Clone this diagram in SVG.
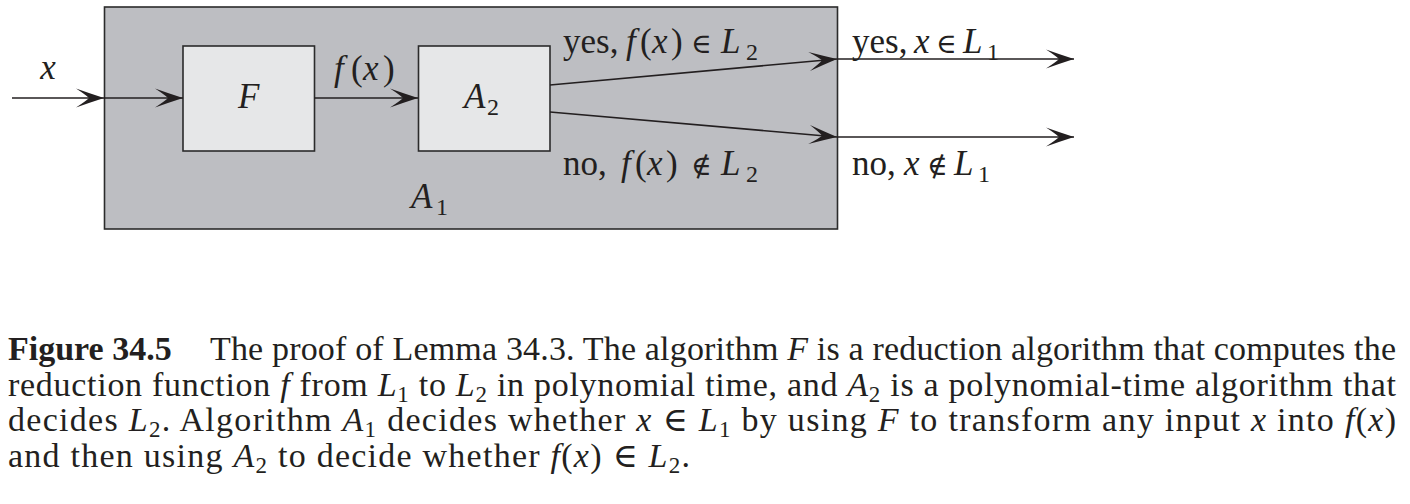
<svg xmlns="http://www.w3.org/2000/svg" width="1410" height="504" viewBox="0 0 1410 504">
<style>
text{font-family:"Liberation Serif","DejaVu Serif",serif;fill:#231f20}
.lb{font-size:35px}
.i{font-style:italic}
.s{font-size:24px}
.m{font-size:28px}
.cap{font-size:34px}
.cs{font-size:23px}
.b{font-weight:bold}
.box{stroke:#2b2b2b;stroke-width:1.6}
.ln{stroke:#231f20;stroke-width:1.6;fill:none;marker-end:url(#ah)}
</style>
<defs>
<marker id="ah" markerUnits="userSpaceOnUse" viewBox="-30 -11 32 22" markerWidth="32" markerHeight="22" refX="0" refY="0" orient="auto">
<path d="M0,0 Q-14,-4.5 -28,-9.5 Q-18,-3 -15,0 Q-18,3 -28,9.5 Q-14,4.5 0,0 Z" fill="#231f20"/>
</marker>
</defs>
<g id="A1">
<rect class="box" x="104.5" y="7" width="733" height="222" fill="#bdbec2"/>
<text class="lb" x="411" y="208"><tspan class="i">A</tspan><tspan class="s" x="436" dy="7">1</tspan></text>
</g>
<g id="F">
<rect class="box" x="183" y="46" width="131.5" height="105" fill="#e6e7e8"/>
<text class="lb i" x="238" y="108">F</text>
</g>
<g id="A2">
<rect class="box" x="418.5" y="46" width="131.5" height="105" fill="#e6e7e8"/>
<text class="lb" x="464" y="108"><tspan class="i">A</tspan><tspan class="s" x="487" dy="7">2</tspan></text>
</g>
<g id="connectors">
<line class="ln" x1="12" y1="98" x2="104" y2="98"/>
<line class="ln" x1="104" y1="98" x2="183" y2="98"/>
<line class="ln" x1="314.5" y1="98" x2="418" y2="98"/>
<line class="ln" x1="550" y1="85" x2="837" y2="59"/>
<line class="ln" x1="837" y1="59" x2="1074" y2="59"/>
<line class="ln" x1="550" y1="112" x2="837" y2="137"/>
<line class="ln" x1="837" y1="137" x2="1074" y2="137"/>
</g>
<g id="labels">
<text class="lb i" x="48" y="79" text-anchor="middle">x</text>
<text class="lb" y="80"><tspan class="i" x="334">f</tspan><tspan x="351">(</tspan><tspan class="i" x="363">x</tspan><tspan x="383">)</tspan></text>
<text class="lb" y="53"><tspan x="563">yes,</tspan><tspan class="i" x="626">f</tspan><tspan x="640">(</tspan><tspan class="i" x="652">x</tspan><tspan x="671">)</tspan><tspan class="m" x="691">∈</tspan><tspan class="i" x="721">L</tspan><tspan class="s" x="746" dy="7">2</tspan></text>
<text class="lb" y="53"><tspan x="852">yes,</tspan><tspan class="i" x="914">x</tspan><tspan class="m" x="936">∈</tspan><tspan class="i" x="963">L</tspan><tspan class="s" x="987" dy="7">1</tspan></text>
<text class="lb" y="175"><tspan x="563">no,</tspan><tspan class="i" x="621">f</tspan><tspan x="635">(</tspan><tspan class="i" x="647">x</tspan><tspan x="666">)</tspan><tspan class="m" x="691">∉</tspan><tspan class="i" x="721">L</tspan><tspan class="s" x="746" dy="7">2</tspan></text>
<text class="lb" y="175"><tspan x="852">no,</tspan><tspan class="i" x="904">x</tspan><tspan class="m" x="927">∉</tspan><tspan class="i" x="954">L</tspan><tspan class="s" x="978" dy="7">1</tspan></text>
</g>
<g id="caption">
<text class="cap b" x="8" y="360">Figure 34.5</text>
<text class="cap" x="210" y="360" textLength="1186" lengthAdjust="spacing">The proof of Lemma 34.3. The algorithm <tspan class="i">F</tspan> is a reduction algorithm that computes the</text>
<text class="cap" x="8" y="395.5" textLength="1388" lengthAdjust="spacing">reduction function <tspan class="i">f</tspan> from <tspan class="i">L</tspan><tspan class="cs" dy="6">1</tspan><tspan dy="-6"> to </tspan><tspan class="i">L</tspan><tspan class="cs" dy="6">2</tspan><tspan dy="-6"> in polynomial time, and </tspan><tspan class="i">A</tspan><tspan class="cs" dy="6">2</tspan><tspan dy="-6"> is a polynomial-time algorithm that</tspan></text>
<text class="cap" x="8" y="431" textLength="1388" lengthAdjust="spacing">decides <tspan class="i">L</tspan><tspan class="cs" dy="6">2</tspan><tspan dy="-6">. Algorithm </tspan><tspan class="i">A</tspan><tspan class="cs" dy="6">1</tspan><tspan dy="-6"> decides whether </tspan><tspan class="i">x</tspan> ∈ <tspan class="i">L</tspan><tspan class="cs" dy="6">1</tspan><tspan dy="-6"> by using </tspan><tspan class="i">F</tspan> to transform any input <tspan class="i">x</tspan> into <tspan class="i">f</tspan>(<tspan class="i">x</tspan>)</text>
<text class="cap" x="8" y="466.5" textLength="682" lengthAdjust="spacing">and then using <tspan class="i">A</tspan><tspan class="cs" dy="6">2</tspan><tspan dy="-6"> to decide whether </tspan><tspan class="i">f</tspan>(<tspan class="i">x</tspan>) ∈ <tspan class="i">L</tspan><tspan class="cs" dy="6">2</tspan><tspan dy="-6">.</tspan></text>
</g>
</svg>
